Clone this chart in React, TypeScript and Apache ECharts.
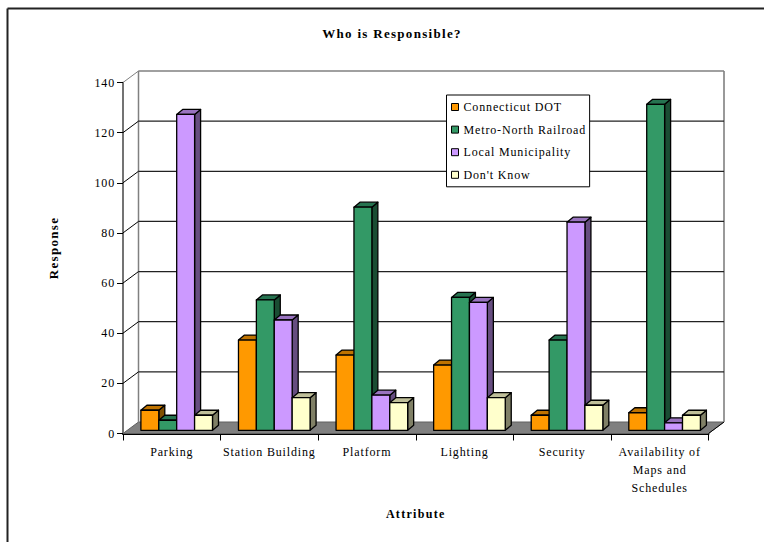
import React, { useEffect, useRef } from "react";
import * as echarts from "echarts";

const categories = ["Parking", "Station Building", "Platform", "Lighting", "Security", "Availability of\nMaps and\nSchedules"];
const connecticutDot = [8, 36, 30, 26, 6, 7];
const metroNorth = [4, 52, 89, 53, 36, 130];
const localMunicipality = [126, 44, 14, 51, 83, 3];
const dontKnow = [6, 13, 11, 13, 10, 6];
const gridValues = [0, 20, 40, 60, 80, 100, 120, 140];

const seriesNames = ["Connecticut DOT", "Metro-North Railroad", "Local Municipality", "Don't Know"];
const seriesValues = [connecticutDot, metroNorth, localMunicipality, dontKnow];
const frontColors = ["#FF9900", "#339966", "#CC99FF", "#FFFFCC"];
const topColors = ["#BF7300", "#267350", "#9973BF", "#BFBF99"];
const sideColors = ["#805000", "#1A4D33", "#664D80", "#808066"];

const FONT = "'Liberation Serif', serif";
const WALL_DX = 15.5;
const WALL_DY = -11.5;
const BAR_DX = 4.9;
const BAR_DY = -3.2;
const BAR_W = 17.9;
const CAP_DX = 6;
const CAP_DY = -5;

// Extruded column: front face, then top and right faces pushed back by the depth offset.
function renderBar(seriesIndex: number) {
  return (_params: any, api: any) => {
    const top = api.coord([api.value(0), api.value(1)]);
    const base = api.coord([api.value(0), 0]);
    const x0 = top[0] + BAR_DX + (seriesIndex - 2) * BAR_W;
    const x1 = x0 + BAR_W;
    const yTop = top[1] + BAR_DY;
    const yBase = base[1] + BAR_DY;
    const edge = { stroke: "#000", lineWidth: 1.3, lineJoin: "round" };
    return {
      type: "group",
      children: [
        { type: "polygon", shape: { points: [[x1, yTop], [x1 + CAP_DX, yTop + CAP_DY], [x1 + CAP_DX, yBase + CAP_DY], [x1, yBase]] }, style: { ...edge, fill: sideColors[seriesIndex] } },
        { type: "polygon", shape: { points: [[x0, yTop], [x0 + CAP_DX, yTop + CAP_DY], [x1 + CAP_DX, yTop + CAP_DY], [x1, yTop]] }, style: { ...edge, fill: topColors[seriesIndex] } },
        { type: "rect", shape: { x: x0, y: yTop, width: BAR_W, height: yBase - yTop }, style: { ...edge, fill: frontColors[seriesIndex] } },
      ],
    };
  };
}

// Back wall, side wall and floor, one level per axis tick.
function renderWallLevel(_params: any, api: any) {
  const level = api.value(0);
  const [x0, y] = api.coord([0, level]);
  const left = x0 - api.size([1, 0])[0] / 2;
  const right = left + api.size([1, 0])[0] * categories.length;
  const children: any[] = [];
  const isTop = level === gridValues[gridValues.length - 1];
  if (level === 0) {
    children.push({
      type: "polygon",
      shape: { points: [[left, y], [left + WALL_DX, y + WALL_DY], [right + WALL_DX, y + WALL_DY], [right, y]] },
      style: { fill: "#808080", stroke: "#606060", lineWidth: 1 },
    });
    const yTop = api.coord([0, gridValues[gridValues.length - 1]])[1] + WALL_DY;
    children.push(
      { type: "line", shape: { x1: left + WALL_DX, y1: yTop, x2: left + WALL_DX, y2: y + WALL_DY }, style: { stroke: "#808080", lineWidth: 1.5 } },
      { type: "line", shape: { x1: right + WALL_DX, y1: yTop, x2: right + WALL_DX, y2: y + WALL_DY }, style: { stroke: "#999", lineWidth: 2 } },
      { type: "line", shape: { x1: right, y1: y, x2: right + WALL_DX, y2: y + WALL_DY }, style: { stroke: "#000", lineWidth: 1 } },
    );
  } else {
    children.push(
      { type: "line", shape: { x1: left + WALL_DX, y1: y + WALL_DY, x2: right + WALL_DX, y2: y + WALL_DY }, style: { stroke: isTop ? "#808080" : "#222", lineWidth: isTop ? 1.5 : 1.2 } },
      { type: "line", shape: { x1: left, y1: y, x2: left + WALL_DX, y2: y + WALL_DY }, style: { stroke: isTop ? "#808080" : "#000", lineWidth: 1 } },
    );
  }
  return { type: "group", children };
}

export default function App() {
  const ref = useRef<HTMLDivElement>(null);
  useEffect(() => {
    const chart = echarts.init(ref.current!, null, { renderer: "svg" });
    const bars = seriesNames.map((name, i) => ({
      type: "custom",
      name,
      z: 3,
      itemStyle: { color: frontColors[i] },
      renderItem: renderBar(i),
      encode: { x: 0, y: 1 },
      data: seriesValues[i].map((v, c) => [c, v]),
    }));
    chart.setOption({
      animation: false,
      backgroundColor: "#fff",
      title: {
        text: "Who is Responsible?",
        left: 387,
        top: 22,
        textAlign: "center",
        textStyle: { fontFamily: FONT, fontSize: 13, fontWeight: "bold", color: "#000" },
      },
      grid: { left: 123, width: 585.5, top: 82.5, height: 351 },
      xAxis: {
        type: "category",
        data: categories,
        name: "Attribute",
        nameLocation: "middle",
        nameGap: 74,
        nameTextStyle: { fontFamily: FONT, fontSize: 12, fontWeight: "bold", color: "#000" },
        axisLine: { lineStyle: { color: "#000", width: 2 } },
        axisTick: { show: true, length: 7, alignWithLabel: false, interval: 0, lineStyle: { color: "#000", width: 1 } },
        axisLabel: { interval: 0, margin: 9, lineHeight: 18, fontFamily: FONT, fontSize: 12, color: "#000" },
        splitLine: { show: false },
      },
      yAxis: {
        type: "value",
        min: 0,
        max: 140,
        interval: 20,
        name: "Response",
        nameLocation: "middle",
        nameRotate: 90,
        nameGap: 63,
        nameTextStyle: { fontFamily: FONT, fontSize: 13, fontWeight: "bold", color: "#000", padding: [0, 0, 0, 20] },
        axisLine: { show: true, lineStyle: { color: "#444", width: 1.5 } },
        axisTick: { show: true, length: 6, lineStyle: { color: "#000", width: 1 } },
        axisLabel: { margin: 8, fontFamily: FONT, fontSize: 12, color: "#000" },
        splitLine: { show: false },
      },
      legend: {
        orient: "vertical",
        left: 446.5,
        top: 95,
        data: seriesNames,
        icon: "rect",
        itemWidth: 7,
        itemHeight: 7,
        itemGap: 10.6,
        selectedMode: false,
        padding: [6, 20.5, 6, 4.5],
        backgroundColor: "#fff",
        borderColor: "#000",
        borderWidth: 1,
        itemStyle: { borderColor: "#000", borderWidth: 1 },
        textStyle: { fontFamily: FONT, fontSize: 12, color: "#000" },
      },
      graphic: [
        { type: "line", shape: { x1: 7.5, y1: 8.5, x2: 764, y2: 8.5 }, style: { stroke: "#222", lineWidth: 2 } },
        { type: "line", shape: { x1: 7.5, y1: 8.5, x2: 7.5, y2: 542 }, style: { stroke: "#222", lineWidth: 2 } },
      ],
      series: [
        {
          type: "custom",
          name: "walls",
          z: 1,
          renderItem: renderWallLevel,
          encode: { y: 0 },
          silent: true,
          data: gridValues.map((v) => [v]),
        },
        ...bars,
      ],
    });
    return () => chart.dispose();
  }, []);
  return (
    <>
      <style>{`.resp-chart text{letter-spacing:.85px}.resp-chart text[style*="bold"]{letter-spacing:1.3px}`}</style>
      <div ref={ref} className="resp-chart" style={{ position: "absolute", left: 0, top: 0, width: 764, height: 542 }} />
    </>
  );
}
